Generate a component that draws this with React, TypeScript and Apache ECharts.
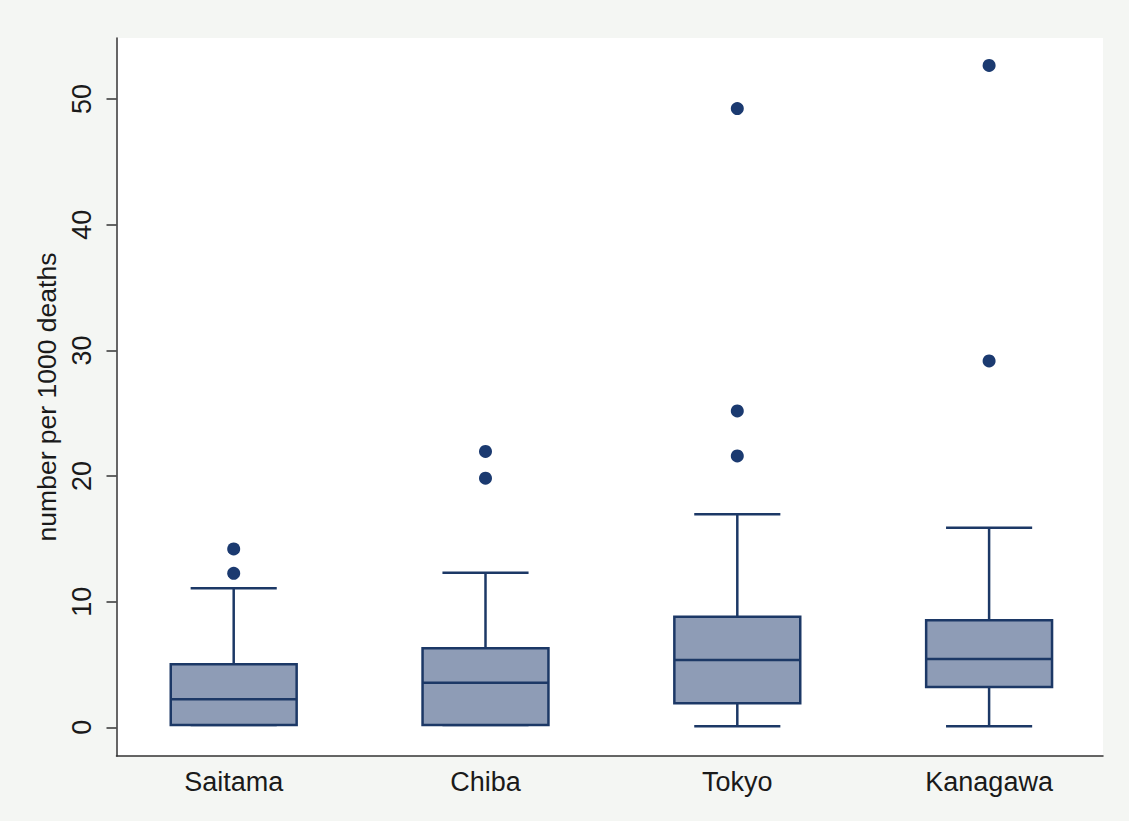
import React, { useEffect, useRef } from "react";
import * as echarts from "echarts";

const categories = ["Saitama", "Chiba", "Tokyo", "Kanagawa"];
const whiskerLow = [0.18, 0.18, 0.08, 0.08];
const lowerQuartile = [0.18, 0.18, 1.91, 3.21];
const medians = [2.23, 3.55, 5.36, 5.44];
const upperQuartile = [5.02, 6.29, 8.81, 8.52];
const whiskerHigh = [11.07, 12.31, 16.96, 15.89];
const outlierCategory = [0, 0, 1, 1, 2, 2, 2, 3, 3];
const outlierValues = [14.2, 12.26, 21.96, 19.83, 49.24, 25.18, 21.6, 52.68, 29.16];
const yTicks = [0, 10, 20, 30, 40, 50];

const Y_MIN = -2.28;
const Y_MAX = 54.86;
const FONT = "'Liberation Sans', Arial, Helvetica, sans-serif";
const NAVY = "#1c3866";
const FILL = "#8e9cb6";

export default function App() {
  const ref = useRef<HTMLDivElement>(null);

  useEffect(() => {
    document.body.style.margin = "0";
    if (!ref.current) return;
    const chart = echarts.init(ref.current, undefined, { renderer: "svg" });

    const boxData = categories.map((_, i) => [
      i,
      whiskerLow[i],
      lowerQuartile[i],
      medians[i],
      upperQuartile[i],
      whiskerHigh[i],
    ]);
    const outlierData = outlierValues.map((v, i) => [outlierCategory[i], v]);

    const renderItem = (params: any, api: any) => {
      const x = api.value(0);
      const pLow = api.coord([x, api.value(1)]);
      const pQ1 = api.coord([x, api.value(2)]);
      const pMed = api.coord([x, api.value(3)]);
      const pQ3 = api.coord([x, api.value(4)]);
      const pHigh = api.coord([x, api.value(5)]);
      const band = api.size([1, 0])[0];
      const half = band * 0.25;
      const cap = band * 0.171;
      const cx = pMed[0];
      const lw = 2.5;
      const line = (x1: number, y1: number, x2: number, y2: number) => ({
        type: "line",
        shape: { x1, y1, x2, y2 },
        style: { stroke: NAVY, lineWidth: lw },
      });
      return {
        type: "group",
        children: [
          line(cx, pQ3[1], cx, pHigh[1]),
          line(cx, pQ1[1], cx, pLow[1]),
          line(cx - cap, pHigh[1], cx + cap, pHigh[1]),
          line(cx - cap, pLow[1], cx + cap, pLow[1]),
          {
            type: "rect",
            shape: { x: cx - half, y: pQ3[1], width: half * 2, height: pQ1[1] - pQ3[1] },
            style: { fill: FILL, stroke: NAVY, lineWidth: lw },
          },
          line(cx - half, pMed[1], cx + half, pMed[1]),
        ],
      };
    };

    chart.setOption({
      animation: false,
      backgroundColor: "#f4f6f3",
      grid: [
        {
          left: 116.5,
          top: 38,
          width: 986.5,
          height: 718,
          show: true,
          backgroundColor: "#ffffff",
          borderWidth: 0,
        },
        { left: 107.8, top: 38, width: 1007.2, height: 718 },
      ],
      xAxis: [
        {
          type: "value",
          gridIndex: 0,
          min: 0,
          max: 1,
          axisLine: { show: true, onZero: false, lineStyle: { color: "#333", width: 1.5 } },
          axisTick: { show: false },
          axisLabel: { show: false },
          splitLine: { show: false },
        },
        {
          type: "category",
          gridIndex: 1,
          data: categories,
          axisLine: { show: false, onZero: false },
          axisTick: { show: false },
          axisLabel: { fontSize: 27, color: "#1a1a1a", fontFamily: FONT, margin: 12 },
          splitLine: { show: false },
        },
      ],
      yAxis: [
        {
          type: "value",
          gridIndex: 0,
          min: Y_MIN,
          max: Y_MAX,
          axisLine: { show: true, onZero: false, lineStyle: { color: "#333", width: 1.5 } },
          axisTick: {
            show: true,
            length: 10,
            customValues: yTicks,
            lineStyle: { color: "#333", width: 1.5 },
          },
          axisLabel: {
            customValues: yTicks,
            rotate: 90,
            fontSize: 27,
            color: "#1a1a1a",
            fontFamily: FONT,
            margin: 21,
          },
          splitLine: { show: false },
          name: "number per 1000 deaths",
          nameLocation: "middle",
          nameGap: 48,
          nameTextStyle: { fontSize: 26.5, color: "#1a1a1a", fontFamily: FONT },
        },
        {
          type: "value",
          gridIndex: 1,
          min: Y_MIN,
          max: Y_MAX,
          show: false,
        },
      ],
      series: [
        {
          type: "custom",
          xAxisIndex: 1,
          yAxisIndex: 1,
          data: boxData,
          renderItem,
        },
        {
          type: "scatter",
          xAxisIndex: 1,
          yAxisIndex: 1,
          data: outlierData,
          symbol: "circle",
          symbolSize: 13,
          itemStyle: { color: "#1b3a70", opacity: 1 },
        },
      ],
    });

    return () => chart.dispose();
  }, []);

  return <div ref={ref} style={{ width: 1129, height: 821 }} />;
}
